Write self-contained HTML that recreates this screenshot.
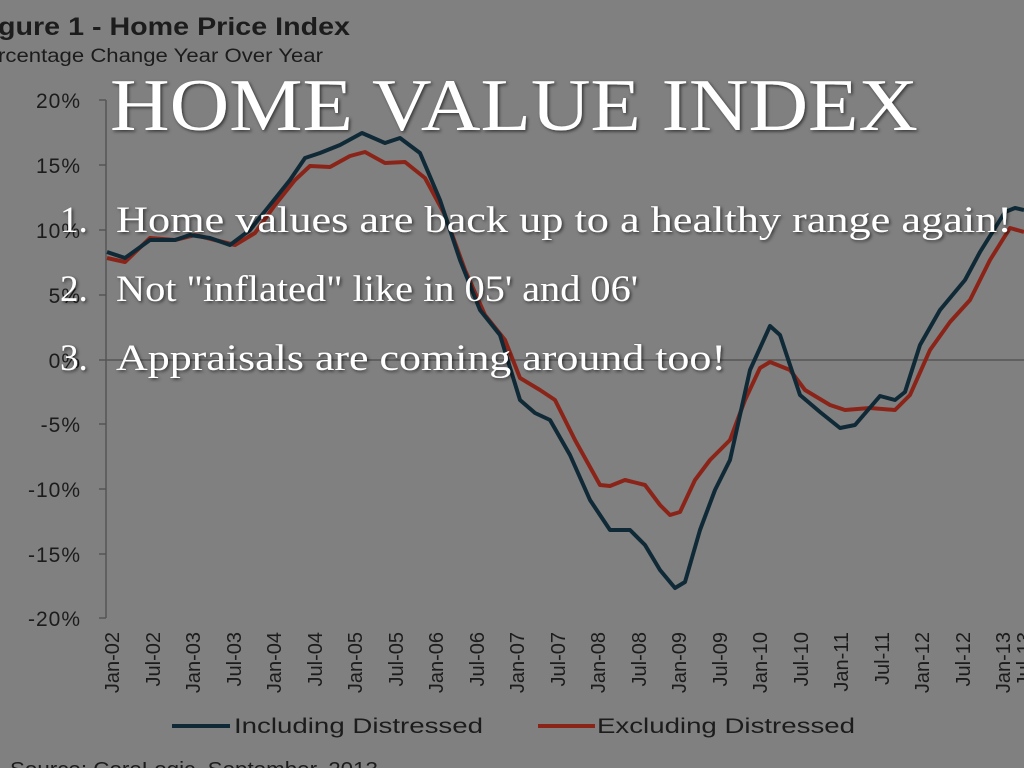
<!DOCTYPE html>
<html><head><meta charset="utf-8"><style>
html,body{margin:0;padding:0;background:#808080;}
svg{display:block}
.w{font-family:"Liberation Serif",serif;fill:#fff;}
.d{font-family:"Liberation Sans",sans-serif;fill:#1c1c1c;}
</style></head><body>
<svg width="1024" height="768" viewBox="0 0 1024 768" xmlns="http://www.w3.org/2000/svg">
<defs><filter id="sh" x="-5%" y="-20%" width="110%" height="140%"><feDropShadow dx="1.5" dy="1.5" stdDeviation="1.5" flood-color="#000" flood-opacity="0.6"/></filter></defs>
<rect width="1024" height="768" fill="#808080"/>
<text class="d" x="-2" y="35" font-size="25" font-weight="bold" textLength="352" lengthAdjust="spacingAndGlyphs">gure 1 - Home Price Index</text>
<text class="d" x="-2" y="62" font-size="19" fill="#252525" textLength="325" lengthAdjust="spacingAndGlyphs">rcentage Change Year Over Year</text>
<g stroke="#555" stroke-width="1.5" fill="none">
<line x1="106" y1="100" x2="106" y2="618"/>
<line x1="106" y1="360" x2="1024" y2="360"/>
<line x1="99" y1="100" x2="106" y2="100"/><line x1="99" y1="165" x2="106" y2="165"/><line x1="99" y1="230" x2="106" y2="230"/><line x1="99" y1="295" x2="106" y2="295"/><line x1="99" y1="360" x2="106" y2="360"/><line x1="99" y1="424" x2="106" y2="424"/><line x1="99" y1="489" x2="106" y2="489"/><line x1="99" y1="554" x2="106" y2="554"/><line x1="99" y1="618" x2="106" y2="618"/>
</g>
<g class="d" font-size="21" text-anchor="end" letter-spacing="1">
<text x="81" y="108">20%</text><text x="81" y="173">15%</text><text x="81" y="238">10%</text><text x="81" y="303">5%</text><text x="81" y="368">0%</text><text x="81" y="432">-5%</text><text x="81" y="497">-10%</text><text x="81" y="562">-15%</text><text x="81" y="626">-20%</text>
</g>
<g class="d" font-size="20" text-anchor="end">
<text transform="translate(119,632) rotate(-90)">Jan-02</text>
<text transform="translate(160,632) rotate(-90)">Jul-02</text>
<text transform="translate(200,632) rotate(-90)">Jan-03</text>
<text transform="translate(241,632) rotate(-90)">Jul-03</text>
<text transform="translate(281,632) rotate(-90)">Jan-04</text>
<text transform="translate(322,632) rotate(-90)">Jul-04</text>
<text transform="translate(362,632) rotate(-90)">Jan-05</text>
<text transform="translate(403,632) rotate(-90)">Jul-05</text>
<text transform="translate(443,632) rotate(-90)">Jan-06</text>
<text transform="translate(484,632) rotate(-90)">Jul-06</text>
<text transform="translate(524,632) rotate(-90)">Jan-07</text>
<text transform="translate(565,632) rotate(-90)">Jul-07</text>
<text transform="translate(605,632) rotate(-90)">Jan-08</text>
<text transform="translate(646,632) rotate(-90)">Jul-08</text>
<text transform="translate(686,632) rotate(-90)">Jan-09</text>
<text transform="translate(727,632) rotate(-90)">Jul-09</text>
<text transform="translate(767,632) rotate(-90)">Jan-10</text>
<text transform="translate(808,632) rotate(-90)">Jul-10</text>
<text transform="translate(848,632) rotate(-90)">Jan-11</text>
<text transform="translate(889,632) rotate(-90)">Jul-11</text>
<text transform="translate(929,632) rotate(-90)">Jan-12</text>
<text transform="translate(970,632) rotate(-90)">Jul-12</text>
<text transform="translate(1010,632) rotate(-90)">Jan-13</text>
<text transform="translate(1031,632) rotate(-90)">Jul-13</text>
</g>
<polyline fill="none" stroke="#8b2418" stroke-width="4" stroke-linejoin="round" points="107,258 125,262 150,238 175,240 195,235 215,240 235,245 255,233 275,205 295,180 310,166 330,167 350,156 365,152 385,163 405,162 425,178 445,215 465,270 485,315 505,340 520,378 540,390 555,400 575,440 600,485 610,486 625,480 645,485 660,505 670,515 680,512 695,480 710,460 730,440 745,400 760,368 770,362 790,370 805,390 830,405 845,410 870,408 895,410 910,395 930,350 950,322 970,300 990,260 1010,228 1024,232"/>
<polyline fill="none" stroke="#0f2a36" stroke-width="4" stroke-linejoin="round" points="107,252 125,258 150,240 175,240 190,235 210,238 230,245 250,230 270,205 290,180 305,158 320,153 340,145 362,133 385,143 400,138 420,153 440,200 460,260 480,310 500,335 520,400 535,413 550,420 570,455 590,500 610,530 630,530 645,545 660,570 675,588 685,582 700,530 715,490 730,460 750,370 770,326 780,335 800,395 820,412 840,428 855,425 880,396 895,400 905,392 920,345 940,310 965,280 980,252 1005,212 1015,208 1024,210"/>
<line x1="172" y1="726" x2="230" y2="726" stroke="#0f2a36" stroke-width="4"/>
<text class="d" x="234" y="733" font-size="21" textLength="249" lengthAdjust="spacingAndGlyphs">Including Distressed</text>
<line x1="538" y1="726" x2="595" y2="726" stroke="#8b2418" stroke-width="4"/>
<text class="d" x="597" y="733" font-size="21" textLength="258" lengthAdjust="spacingAndGlyphs">Excluding Distressed</text>
<text class="d" x="10" y="776" font-size="20" textLength="368" lengthAdjust="spacingAndGlyphs">Source: CoreLogic, September, 2013</text>
<g filter="url(#sh)">
<text class="w" x="110" y="130" font-size="74" textLength="808" lengthAdjust="spacingAndGlyphs">HOME VALUE INDEX</text>
<text class="w" x="60" y="232" font-size="37">1.</text>
<text class="w" x="116" y="232" font-size="37" textLength="896" lengthAdjust="spacingAndGlyphs">Home values are back up to a healthy range again!</text>
<text class="w" x="60" y="301" font-size="37">2.</text>
<text class="w" x="116" y="301" font-size="37" textLength="522" lengthAdjust="spacingAndGlyphs">Not "inflated" like in 05' and 06'</text>
<text class="w" x="60" y="370" font-size="37">3.</text>
<text class="w" x="116" y="370" font-size="37" textLength="610" lengthAdjust="spacingAndGlyphs">Appraisals are coming around too!</text>
</g>
</svg>
</body></html>
